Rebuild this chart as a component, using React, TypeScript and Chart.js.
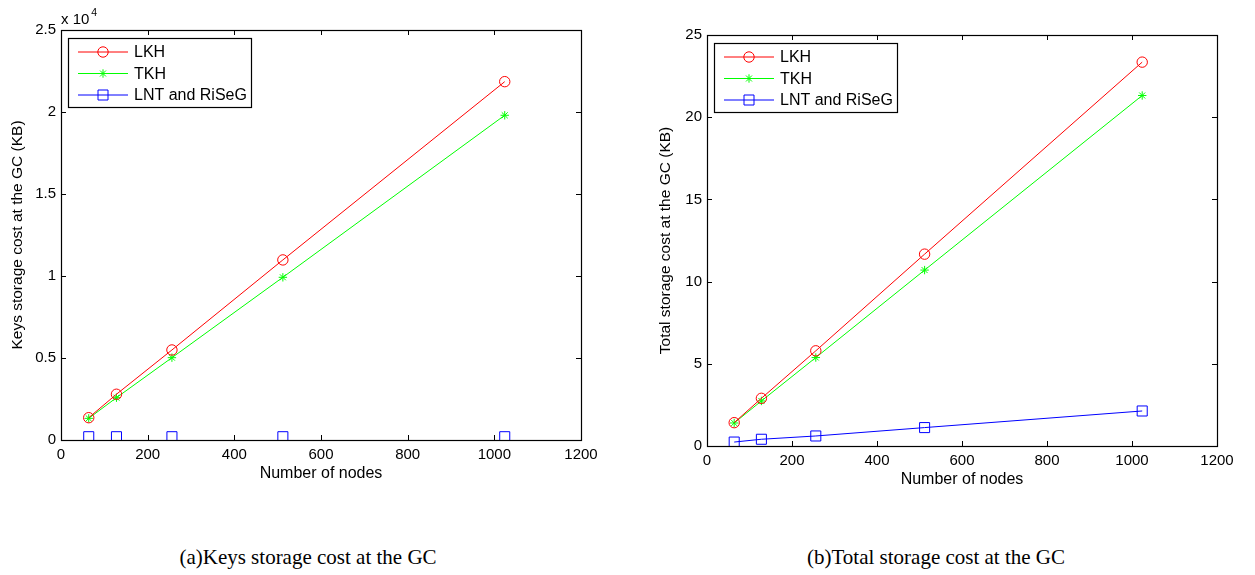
import React, { useEffect, useRef } from 'react';
import { Chart, registerables } from 'chart.js';

Chart.register(...registerables);

// ---------- data ----------
const nodes = [64, 128, 256, 512, 1024];

const seriesNames = ['LKH', 'TKH', 'LNT and RiSeG'];

// (a) keys storage cost at the GC (KB)
const keysLKH = [1360, 2790, 5490, 10980, 21850];
const keysTKH = [1320, 2580, 5020, 9920, 19800];
const keysLNT = [200, 200, 200, 200, 200];

// (b) total storage cost at the GC (KB)
const totalLKH = [1.42, 2.9, 5.79, 11.67, 23.35];
const totalTKH = [1.4, 2.74, 5.38, 10.7, 21.32];
const totalLNT = [0.24, 0.41, 0.61, 1.12, 2.13];

const xTickValues = [0, 200, 400, 600, 800, 1000, 1200];
const keysYTickValues = [0, 5000, 10000, 15000, 20000, 25000];
const totalYTickValues = [0, 5, 10, 15, 20, 25];

const captionA = '(a)Keys storage cost at the GC';
const captionB = '(b)Total storage cost at the GC';

// ---------- styling ----------
const SANS = '"Liberation Sans", Arial, Helvetica, sans-serif';
const SERIF = '"Liberation Serif", "Times New Roman", serif';
const colors = ['#ff0000', '#00ff00', '#0000ff'];
const markers = ['circle', 'star', 'rect'];

function drawMarker(ctx: CanvasRenderingContext2D, kind: string, x: number, y: number, color: string) {
  ctx.save();
  ctx.strokeStyle = color;
  ctx.lineWidth = 1;
  ctx.beginPath();
  if (kind === 'circle') {
    ctx.arc(x, y, 5.2, 0, Math.PI * 2);
  } else if (kind === 'rect') {
    ctx.rect(x - 5, y - 5, 10, 10);
  } else {
    const r = 4.2;
    ctx.moveTo(x - r, y); ctx.lineTo(x + r, y);
    ctx.moveTo(x, y - r); ctx.lineTo(x, y + r);
    const d = r * Math.SQRT1_2;
    ctx.moveTo(x - d, y - d); ctx.lineTo(x + d, y + d);
    ctx.moveTo(x - d, y + d); ctx.lineTo(x + d, y - d);
  }
  ctx.stroke();
  ctx.restore();
}

const frameLegendPlugin = {
  id: 'matlabFrame',
  afterDatasetsDraw(chart: any, _args: any, opts: any) {
    const ctx: CanvasRenderingContext2D = chart.ctx;
    const { left, right, top, bottom } = chart.chartArea;
    const xs = chart.scales.x;
    const ys = chart.scales.y;
    ctx.save();
    // box
    ctx.strokeStyle = '#000';
    ctx.lineWidth = 1.2;
    ctx.strokeRect(Math.round(left) + 0.5, Math.round(top) + 0.5, Math.round(right - left), Math.round(bottom - top));
    // inward ticks
    const tl = 5;
    ctx.lineWidth = 1;
    ctx.beginPath();
    (opts.xTicks as number[]).forEach((v) => {
      const px = Math.round(xs.getPixelForValue(v)) + 0.5;
      ctx.moveTo(px, bottom); ctx.lineTo(px, bottom - tl);
      ctx.moveTo(px, top); ctx.lineTo(px, top + tl);
    });
    (opts.yTicks as number[]).forEach((v) => {
      const py = Math.round(ys.getPixelForValue(v)) + 0.5;
      ctx.moveTo(left, py); ctx.lineTo(left + tl, py);
      ctx.moveTo(right, py); ctx.lineTo(right - tl, py);
    });
    ctx.stroke();

    // exponent label
    if (opts.exponent) {
      ctx.fillStyle = '#000';
      ctx.textAlign = 'left';
      ctx.textBaseline = 'alphabetic';
      ctx.font = `15px ${SANS}`;
      const base = 'x 10';
      ctx.fillText(base, left, top - 6);
      const w = ctx.measureText(base).width;
      ctx.font = `10.5px ${SANS}`;
      ctx.fillText(opts.exponent, left + w + 2, top - 14);
    }

    // legend
    const bx = left + 7;
    const by = top + 8;
    const bw = 183;
    const bh = 69;
    ctx.fillStyle = '#fff';
    ctx.fillRect(bx, by, bw, bh);
    ctx.strokeStyle = '#000';
    ctx.lineWidth = 1.2;
    ctx.strokeRect(bx + 0.5, by + 0.5, bw, bh);
    const rows = [14, 35.5, 57];
    chart.data.datasets.forEach((ds: any, i: number) => {
      const y = by + rows[i];
      ctx.strokeStyle = ds.borderColor;
      ctx.lineWidth = 1;
      ctx.beginPath();
      ctx.moveTo(bx + 10, y);
      ctx.lineTo(bx + 60, y);
      ctx.stroke();
      drawMarker(ctx, markers[i], bx + 35, y, ds.borderColor);
      ctx.fillStyle = '#000';
      ctx.font = `16px ${SANS}`;
      ctx.textAlign = 'left';
      ctx.textBaseline = 'middle';
      ctx.fillText(ds.label, bx + 66, y + 1);
    });
    ctx.restore();
  },
};

type PanelProps = {
  width: number;
  height: number;
  series: number[][];
  showLines: boolean[];
  yMax: number;
  yStep: number;
  yTicks: number[];
  yTitle: string;
  yFormat: (v: number) => string;
  exponent?: string;
  area: { left: number; right: number; top: number; bottom: number };
  yTitlePad: number;
};

function Panel(p: PanelProps) {
  const ref = useRef<HTMLCanvasElement | null>(null);
  useEffect(() => {
    if (!ref.current) return;
    const xAxisH = 50;
    const chart = new Chart(ref.current, {
      type: 'line',
      data: {
        datasets: p.series.map((vals, i) => ({
          label: seriesNames[i],
          data: nodes.map((n, j) => ({ x: n, y: vals[j] })),
          showLine: p.showLines[i],
          borderColor: colors[i],
          backgroundColor: 'rgba(0,0,0,0)',
          borderWidth: 1,
          pointStyle: markers[i] as any,
          pointRadius: markers[i] === 'rect' ? 7.1 : markers[i] === 'circle' ? 5.2 : 4.2,
          pointBorderColor: colors[i],
          pointBackgroundColor: 'rgba(0,0,0,0)',
          pointBorderWidth: 1,
          tension: 0,
          fill: false,
        })),
      },
      options: {
        responsive: false,
        animation: false,
        devicePixelRatio: 1,
        events: [],
        layout: {
          padding: {
            left: 0,
            top: p.area.top,
            right: p.width - p.area.right,
            bottom: p.height - p.area.bottom - xAxisH,
          },
        },
        plugins: {
          legend: { display: false },
          tooltip: { enabled: false },
          matlabFrame: { xTicks: xTickValues, yTicks: p.yTicks, exponent: p.exponent },
        } as any,
        scales: {
          x: {
            type: 'linear',
            min: 0,
            max: 1200,
            grid: { display: false, drawTicks: false },
            border: { display: false },
            ticks: {
              stepSize: 200,
              color: '#000',
              padding: 6,
              font: { family: SANS, size: 15 },
              maxRotation: 0,
              callback: (v: any) => String(v),
            },
            title: { display: true, text: 'Number of nodes', color: '#000', font: { family: SANS, size: 16 }, padding: { top: 0, bottom: 7 } },
            afterFit: (s: any) => { s.height = xAxisH; },
          },
          y: {
            type: 'linear',
            min: 0,
            max: p.yMax,
            grid: { display: false, drawTicks: false },
            border: { display: false },
            ticks: { stepSize: p.yStep, color: '#000', padding: 5, font: { family: SANS, size: 15 }, callback: (v: any) => p.yFormat(Number(v)) },
            title: { display: true, text: p.yTitle, color: '#000', font: { family: SANS, size: 15.5 }, padding: { top: p.yTitlePad, bottom: 0 } },
            afterFit: (s: any) => { s.width = p.area.left; },
          },
        },
      } as any,
      plugins: [frameLegendPlugin as any],
    });
    return () => chart.destroy();
  }, []);
  return <canvas ref={ref} width={p.width} height={p.height} style={{ display: 'block', width: p.width, height: p.height }} />;
}

export default function App() {
  return (
    <div style={{ position: 'absolute', left: 0, top: 0, width: 1255, height: 575, background: '#fff', overflow: 'hidden' }}>
      <div style={{ position: 'absolute', left: 0, top: 0 }}>
        <Panel
          width={625}
          height={500}
          series={[keysLKH, keysTKH, keysLNT]}
          showLines={[true, true, false]}
          yMax={25000}
          yStep={5000}
          yTicks={keysYTickValues}
          yTitle="Keys storage cost at the GC (KB)"
          yFormat={(v) => String(v / 10000)}
          exponent="4"
          area={{ left: 61, right: 581, top: 30, bottom: 440 }}
          yTitlePad={8.7}
        />
      </div>
      <div style={{ position: 'absolute', left: 627, top: 0 }}>
        <Panel
          width={628}
          height={500}
          series={[totalLKH, totalTKH, totalLNT]}
          showLines={[true, true, true]}
          yMax={25}
          yStep={5}
          yTicks={totalYTickValues}
          yTitle="Total storage cost at the GC (KB)"
          yFormat={(v) => String(v)}
          area={{ left: 80, right: 590, top: 35, bottom: 446 }}
          yTitlePad={29.7}
        />
      </div>
      <div style={{ position: 'absolute', left: 0, top: 545, width: 616, textAlign: 'center', fontFamily: SERIF, fontSize: 21, lineHeight: '24px', color: '#000' }}>
        {captionA}
      </div>
      <div style={{ position: 'absolute', left: 627, top: 545, width: 618, textAlign: 'center', fontFamily: SERIF, fontSize: 21, lineHeight: '24px', color: '#000' }}>
        {captionB}
      </div>
    </div>
  );
}
